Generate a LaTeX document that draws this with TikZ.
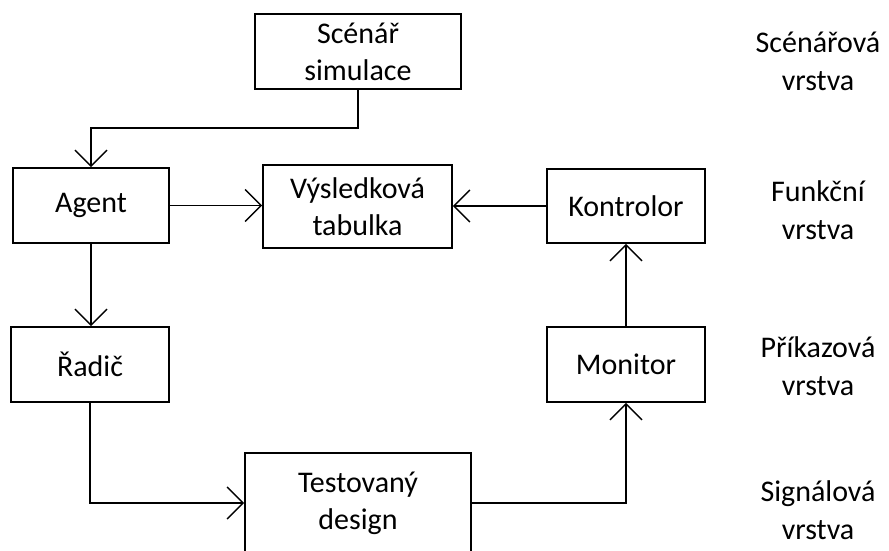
\documentclass[tikz,border=0pt]{standalone}
\usepackage{fontspec}
\setmainfont{Carlito}
\usetikzlibrary{arrows.meta}
\begin{document}
\begin{tikzpicture}[x=1pt,y=-1pt,
  blk/.style={draw, line width=1.6pt, inner sep=0pt, align=center, font=\fontsize{30}{37}\selectfont},
  lay/.style={align=center, inner sep=0pt, font=\fontsize{30}{38}\selectfont},
  arr/.style={line width=1.5pt, -{Straight Barb[length=16pt,width=32pt,line width=1.5pt]}}]
\useasboundingbox (0,0) rectangle (889,550);
\node[blk, minimum width=206pt, minimum height=75pt] (scen) at (358,51.5) {Scénář\\simulace};
\node[blk, minimum width=156pt, minimum height=75pt] (agent) at (91,205.5) {Agent};
\node[blk, minimum width=189pt, minimum height=83pt] (vysl) at (357.5,206.5) {Výsledková\\tabulka};
\node[blk, minimum width=158pt, minimum height=74pt] (kontr) at (626,206) {Kontrolor};
\node[blk, minimum width=158pt, minimum height=75pt] (radic) at (90,364.5) {Řadič};
\node[blk, minimum width=158pt, minimum height=75pt] (mon) at (626,364.5) {Monitor};
\node[blk, minimum width=226pt, minimum height=100pt] (test) at (358,503) {Testovaný\\design};
\node[lay] (l1) at (818,61) {Scénářová\\vrstva};
\node[lay] (l2) at (818,210) {Funkční\\vrstva};
\node[lay] (l3) at (818,366) {Příkazová\\vrstva};
\node[lay] (l4) at (818,510) {Signálová\\vrstva};
\draw[arr] (scen.south) -- ++(0,38) -| (agent.north);
\draw[arr] (agent.east) -- (agent.east -| vysl.west);
\draw[arr] (kontr.west) -- (kontr.west -| vysl.east);
\draw[arr] (agent.south) -- (agent.south |- radic.north);
\draw[arr] (radic.south) |- (test.west);
\draw[arr] (test.east) -| (mon.south);
\draw[arr] (mon.north) -- (kontr.south);
\end{tikzpicture}
\end{document}
